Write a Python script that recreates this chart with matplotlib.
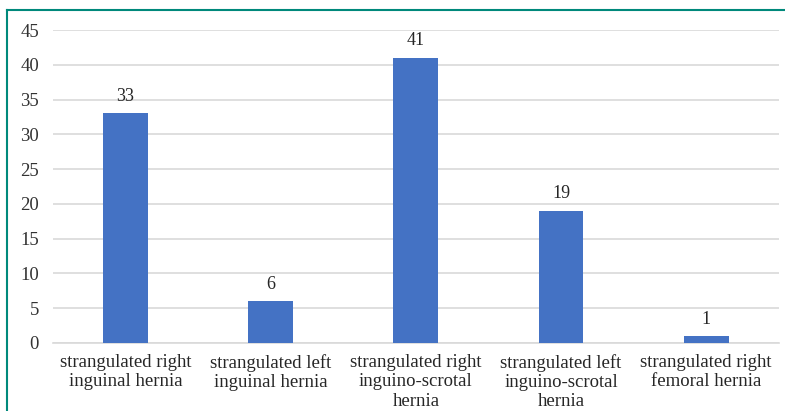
import matplotlib
matplotlib.use("Agg")
import matplotlib.pyplot as plt
from matplotlib.lines import Line2D

# hernia types and case counts
categories = [
    "strangulated right\ninguinal hernia",
    "strangulated left\ninguinal hernia",
    "strangulated right\ninguino-scrotal\nhernia",
    "strangulated left\ninguino-scrotal\nhernia",
    "strangulated right\nfemoral hernia",
]
counts = [33, 6, 41, 19, 1]
yticks = [0, 5, 10, 15, 20, 25, 30, 35, 40, 45]

plt.rcParams["font.family"] = ["Liberation Serif", "DejaVu Serif"]

fig = plt.figure(figsize=(7.85, 4.11), dpi=100)
ax = fig.add_axes([0.0675, 0.1655, 0.9245, 0.7615])

x = range(len(categories))
ax.bar(x, counts, width=0.31, color="#4472C4", zorder=3)
for xi, v in zip(x, counts):
    ax.text(xi, v + 1.2, str(v), ha="center", va="bottom",
            fontsize=13, color="#262626")

ax.set_xlim(-0.5, len(categories) - 0.5)
ax.set_ylim(0, 45)
ax.set_yticks(yticks)
ax.set_xticks(list(x))
ax.set_xticklabels(categories, fontsize=13.5, color="#262626", linespacing=1.17)
ax.tick_params(axis="y", labelsize=13.5, labelcolor="#333333", length=0, pad=10)
ax.tick_params(axis="x", length=0, pad=8)
ax.yaxis.grid(True, color="#D9D9D9", linewidth=1.2, zorder=0)
for s in ["top", "right", "left"]:
    ax.spines[s].set_visible(False)
ax.spines["bottom"].set_color("#D9D9D9")
ax.spines["bottom"].set_linewidth(1.2)

# teal frame on the left and top edges
W, H = 785, 411
fig.add_artist(Line2D([7 / W, 7 / W], [0, 1 - 10 / H], color="#00897B",
                      linewidth=1.5, transform=fig.transFigure))
fig.add_artist(Line2D([7 / W, 1], [1 - 10 / H, 1 - 10 / H], color="#00897B",
                      linewidth=1.5, transform=fig.transFigure))

fig.savefig("out.png", dpi=100)
